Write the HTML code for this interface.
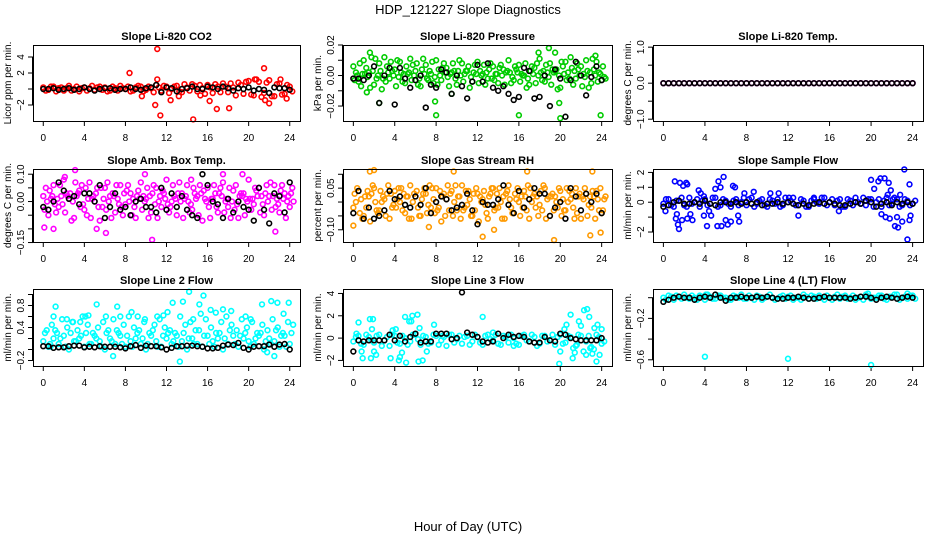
<!DOCTYPE html>
<html><head><meta charset="utf-8"><style>
html,body{margin:0;padding:0;background:#fff;}
svg{display:block;font-family:"Liberation Sans",sans-serif;}
</style></head><body>
<svg id="chart" width="936" height="540" viewBox="0 0 936 540" xmlns="http://www.w3.org/2000/svg">
<rect width="936" height="540" fill="#fff"/>
<text x="468" y="14" font-size="13" text-anchor="middle">HDP_121227  Slope Diagnostics</text>
<text x="468" y="531" font-size="13" text-anchor="middle">Hour of Day (UTC)</text>
<g id="panels"></g>
</svg>
<script>
const xTicks = [0,4,8,12,16,20,24];
const titles = ["Slope Li-820 CO2","Slope Li-820 Pressure","Slope Li-820 Temp.","Slope Amb. Box Temp.","Slope Gas Stream RH","Slope Sample Flow","Slope Line 2 Flow","Slope Line 3 Flow","Slope Line 4 (LT) Flow"];
const yTitles = ["Licor ppm per min.","kPa per min.","degrees C per min.","degrees C per min.","percent per min.","ml/min per min.","ml/min per min.","ml/min per min.","ml/min per min."];
const yRanges = [[-4,5.5],[-0.0298,0.02],[-1.05,1.06],[-0.148,0.119],[-0.144,0.119],[-2.67,2.23],[-0.30,1.10],[-2.5,4.4],[-0.66,0.084]];
const yTickVals = [[-2,0,2,4],[-0.02,-0.01,0,0.01,0.02],[-1,-0.5,0,0.5,1],[-0.15,-0.1,-0.05,0,0.05,0.1],[-0.1,-0.05,0,0.05,0.1],[-2,-1,0,1,2],[-0.2,0,0.2,0.4,0.6,0.8,1.0],[-2,0,2,4],[-0.6,-0.4,-0.2,0]];
const yTickLabels = [[[-2,"−2"],[2,"2"],[4,"4"]],[[-0.02,"−0.02"],[0,"0.00"],[0.02,"0.02"]],[[-1,"−1.0"],[0,"0.0"],[1,"1.0"]],[[-0.15,"−0.15"],[0,"0.00"],[0.1,"0.10"]],[[-0.1,"−0.10"],[0.05,"0.05"]],[[-2,"−2"],[0,"0"],[1,"1"],[2,"2"]],[[-0.2,"−0.2"],[0.4,"0.4"],[0.8,"0.8"]],[[-2,"−2"],[0,"0"],[2,"2"],[4,"4"]],[[-0.6,"−0.6"],[-0.2,"−0.2"]]];
const colors = ["#ff0000","#00cc00","#ff00ff","#ff00ff","#ff9a00","#0000ff","#00ffff","#00ffff","#00ffff"];

const co2A=[0.2,-0.1,0.3,0.1,-0.2,0.4,0.0,-0.3,0.2,0.1,-0.1,0.3,0.2,-0.2,0.1,0.4,0.0,-0.3,0.2,0.3,-0.1,0.1,0.5,-0.2,0.3,0.0,0.4,-0.4,0.2,0.6,-0.3,0.1,0.5,-0.5,0.3,0.7,-0.4,0.2,0.8,-0.6,1.0,-0.8,0.9,-0.5,1.1,-0.9,0.7,-0.6,0.3];
const co2B=[-0.2,0.3,-0.3,0.2,0.1,-0.2,0.3,0.1,-0.2,0.4,0.2,-0.1,-0.3,0.3,-0.2,0.1,0.3,-0.2,0.4,-0.3,0.3,-0.4,0.2,0.4,-0.5,0.3,-0.3,0.6,-0.2,0.4,0.5,-0.6,0.2,0.6,-0.4,0.3,0.7,-0.8,0.5,0.9,-0.7,1.2,-1.0,0.8,-0.9,0.6,-0.7,0.5,-0.3];
const co2OutX=[11.1,8.4,11.1,10.9,11.4,14.6,16.2,16.9,18.1,21.5,9.6,12.4,22,21.6,20.6,23.1,23.7,15.3,13.2];
const co2OutY=[5.0,2.0,1.2,-2,-3.3,-3.8,-1.5,-2.5,-2.4,2.6,-0.9,-1.4,-1.8,-1.4,1.2,1.2,-1.2,-0.8,-0.9];
const co2Blk=[0,0,0.1,-0.1,0,0.1,-0.1,0,0.2,0,-0.2,0,0.1,0.1,-0.1,0,0,0.2,0,-0.1,0.1,0.2,0.5,-0.4,0.2,0.1,-0.3,0,0.1,0.3,0,0,0.3,0.2,0,0.3,0.1,-0.2,0.1,0,0.2,-0.2,0,-0.1,-0.5,0.2,0.1,0.1,-0.1];

const prA=[0.006,-0.004,0.010,0.002,-0.006,0.008,0.012,-0.002,0.004,0.009,-0.005,0.011,0.003,-0.007,0.007,0.001,0.010,-0.003,0.005,0.002,-0.006,0.008,0.003,-0.004,0.009,0.001,-0.002,0.006,-0.005,0.004,0.010,-0.003,0.007,0.000,-0.006,0.005,0.011,-0.004,0.008,0.003,-0.008,0.009,0.012,-0.002,0.006,0.010,-0.005,0.009,-0.003];
const prB=[-0.003,0.008,0.001,-0.008,0.011,0.003,-0.004,0.009,-0.007,0.002,0.006,-0.003,0.008,0.004,-0.002,0.009,-0.006,0.005,-0.001,0.008,0.003,-0.004,0.006,0.002,-0.005,0.007,0.004,-0.003,0.005,-0.006,0.002,0.006,-0.004,0.008,0.003,-0.005,0.002,0.007,-0.006,0.004,0.009,-0.003,0.005,0.008,-0.007,0.003,0.011,-0.004,0.006];
const prC=[0.002,-0.007,0.005,0.012,-0.002,-0.009,0.006,0.003,0.010,-0.004,0.001,0.007,-0.006,0.011,-0.003,-0.005,0.004,0.008,-0.007,0.003,0.010,0.001,-0.008,0.007,0.003,-0.006,0.008,0.001,0.007,0.002,-0.005,0.004,0.001,-0.008,0.006,0.008,-0.003,0.002,0.004,-0.009,0.006,0.002,-0.006,0.004,0.001,-0.008,0.004,0.002,-0.001];
const prD=[0.000,0.001,-0.001,0.003,0.000,-0.002,0.002,0.000,-0.001,0.001,0.002,0.000,-0.002,0.001,0.003,-0.001,0.000,0.002,0.001,-0.002,0.000,0.003,-0.001,0.001,0.000,0.002,-0.002,0.001,0.000,0.003,-0.001,0.002,0.000,-0.002,0.001,0.000,0.003,-0.001,0.002,0.000,0.001,-0.002,0.003,0.000,-0.001,0.002,0.000,0.001,-0.002];
const prOutX=[8,16,19.9,20,23.9,2.5,7.9,18.9,19.5,17.9,1.6,23.4,1.3,9.5];
const prOutY=[-0.026,-0.026,-0.018,-0.028,-0.026,-0.018,-0.017,0.018,0.015,0.015,0.015,0.013,-0.011,-0.012];
const prBlk=[-0.002,-0.002,-0.003,0.000,0.006,-0.018,0.000,0.005,-0.019,0.005,-0.002,-0.008,-0.003,0.000,-0.021,-0.006,-0.008,0.004,0.002,-0.012,0.000,-0.007,-0.015,-0.004,0.007,-0.004,0.008,-0.008,-0.010,-0.007,-0.012,-0.016,-0.014,0.005,0.003,-0.015,-0.014,0.000,-0.020,0.004,-0.002,-0.027,-0.003,0.009,0.000,-0.013,-0.001,0.006,-0.003];

const tmpA=[0,0,0,0,0,0,0,0,0,0,0,0,0,0,0,0,0,0,0,0,0,0,0,0,0,0,0,0,0,0,0,0,0,0,0,0,0,0,0,0,0,0,0,0,0,0,0,0,0];
const tmpBlk=[0,0,0,0,0,0,0,0,0,0,0,0,0,0,0,0,0,0,0,0,0,0,0,0,0,0,0,0,0,0,0,0,0,0,0,0,0,0,0,0,0,0,0,0,0,0,0,0,0];

const ambA=[0.02,-0.05,0.06,-0.02,0.08,0.01,-0.06,0.04,-0.03,0.07,0.00,-0.07,0.05,0.02,-0.04,0.06,-0.01,0.03,-0.06,0.07,0.01,-0.04,0.05,-0.02,0.08,0.00,-0.05,0.03,0.06,-0.03,0.02,-0.07,0.05,0.01,-0.04,0.07,-0.02,0.04,-0.06,0.03,0.08,-0.01,0.05,-0.05,0.02,0.06,-0.04,0.03,-0.02];
const ambB=[-0.03,0.04,-0.01,0.06,-0.04,0.03,0.07,-0.02,0.05,-0.06,0.03,0.05,-0.03,-0.06,0.06,-0.02,0.04,-0.05,0.02,-0.03,0.05,0.03,-0.06,0.04,-0.01,0.06,0.03,-0.06,0.00,0.05,-0.05,0.04,-0.02,0.06,0.03,-0.04,0.05,-0.03,0.02,-0.05,0.01,0.05,-0.04,0.03,0.07,-0.02,0.04,-0.06,0.03];
const ambC=[0.05,0.01,-0.04,0.02,0.03,-0.07,0.02,0.06,-0.05,0.01,0.05,-0.02,0.07,0.03,0.01,-0.05,0.06,0.01,0.04,0.02,-0.06,0.06,0.00,0.03,-0.04,0.02,0.07,0.01,-0.04,0.03,0.06,0.01,-0.06,0.03,0.05,0.00,-0.06,0.06,0.03,0.01,-0.03,0.04,0.02,0.06,-0.03,0.01,0.06,0.00,0.05];
const ambD=[0.00,0.02,0.01,-0.01,0.02,0.00,0.03,-0.01,0.01,0.02,-0.02,0.01,0.00,0.02,-0.01,0.03,0.00,-0.02,0.01,0.00,0.02,-0.01,0.02,0.01,-0.02,0.01,0.00,0.02,-0.01,0.01,0.03,0.00,0.01,-0.02,0.02,0.01,0.00,-0.01,0.02,0.00,0.01,0.02,-0.01,0.00,0.02,-0.01,0.01,0.02,0.00];
const ambOutX=[3.1,6.1,10.6,5.2,1.0,0.1,2.1,9.9,17.5,19.4,14.4,22.6];
const ambOutY=[0.115,-0.115,-0.14,-0.10,-0.10,-0.095,0.09,0.10,0.10,0.10,0.08,-0.11];
const ambBlk=[-0.02,-0.03,0.00,0.07,0.04,0.01,0.02,-0.01,0.03,0.03,0.00,0.06,-0.06,-0.02,0.03,-0.03,-0.02,-0.05,0.00,0.01,-0.02,-0.02,-0.04,0.05,-0.03,0.03,-0.02,0.02,-0.03,-0.05,-0.06,0.10,0.06,0.00,-0.01,-0.06,0.01,-0.04,0.00,-0.02,-0.03,-0.07,0.05,-0.03,-0.08,0.03,0.02,-0.04,0.07];

const rhA=[-0.02,0.04,-0.05,0.02,0.05,-0.03,0.01,-0.06,0.04,0.00,-0.04,0.06,0.02,-0.05,0.03,-0.02,0.05,-0.07,0.01,0.04,-0.03,0.06,-0.01,-0.05,0.03,0.01,-0.06,0.05,-0.02,0.02,0.06,-0.04,0.00,0.04,-0.06,0.03,-0.01,0.05,-0.05,0.02,0.04,-0.03,0.01,0.05,-0.06,0.03,-0.02,0.04,-0.04];
const rhB=[0.03,-0.04,0.02,-0.07,0.00,0.04,-0.05,0.03,-0.02,0.05,0.02,-0.06,0.04,0.01,-0.04,0.05,-0.03,0.02,0.06,-0.05,0.02,-0.03,0.04,0.03,-0.07,0.04,0.02,-0.03,0.05,-0.06,0.01,0.03,-0.05,0.02,0.05,-0.02,0.04,-0.06,0.02,0.00,-0.05,0.05,0.03,-0.04,0.02,-0.05,0.04,0.01,-0.03];
const rhC=[0.00,0.01,-0.02,0.03,-0.03,0.00,0.03,-0.02,0.01,-0.03,0.02,0.00,-0.02,0.03,-0.01,0.01,-0.02,0.03,-0.03,0.00,0.02,-0.02,0.01,-0.03,0.02,-0.01,0.03,-0.02,0.00,0.03,-0.02,0.01,0.02,-0.03,0.00,0.02,-0.03,0.01,0.03,-0.02,0.01,0.00,-0.02,0.02,0.01,-0.01,0.02,-0.03,0.01];
const rhD=[0.05,-0.06,0.04,0.06,-0.04,0.02,0.06,-0.01,0.05,0.03,-0.06,0.03,-0.05,0.05,0.06,-0.04,0.04,-0.05,0.03,0.06,-0.06,0.04,-0.05,0.05,0.00,-0.04,0.05,0.03,-0.06,0.04,-0.04,0.05,-0.02,0.06,0.02,-0.05,0.06,0.02,-0.03,0.05,-0.03,0.04,-0.06,0.03,0.05,0.02,-0.06,0.05,0.02];
const rhOutX=[12.5,19.4,1.6,2.0,9.7,16.8,23.1,22.9,23.9,0.0,7.3,13.6];
const rhOutY=[-0.125,-0.137,0.11,0.115,0.11,0.11,0.11,-0.12,-0.11,-0.085,-0.09,-0.10];
const rhBlk=[-0.04,0.04,-0.06,-0.02,-0.06,-0.05,-0.03,0.04,0.01,0.02,-0.01,-0.02,0.02,-0.01,0.05,-0.04,0.00,0.02,0.01,-0.03,-0.02,-0.01,0.03,-0.03,-0.08,0.00,-0.01,-0.01,0.01,0.06,-0.01,-0.04,0.04,-0.02,0.01,0.05,0.03,0.03,-0.05,-0.02,0.00,-0.06,0.05,0.02,-0.03,0.03,0.00,0.03,-0.04];

const sfA=[-0.1,0.2,-0.3,0.1,-0.2,0.3,0.0,-0.3,0.2,-0.1,0.3,-0.2,0.1,-0.3,0.2,0.0,-0.2,0.3,-0.1,0.2,-0.3,0.1,0.2,-0.2,0.0,0.3,-0.2,0.1,-0.3,0.2,-0.1,0.3,0.0,-0.2,0.2,-0.3,0.1,0.3,-0.1,-0.2,0.2,0.0,-0.3,0.3,-0.1,0.2,-0.2,0.1,-0.1];
const sfB=[0.2,-0.2,0.1,0.3,-0.3,-0.1,0.2,0.1,-0.2,0.3,-0.3,0.2,-0.1,0.1,-0.2,0.3,0.2,-0.3,0.1,-0.2,0.2,-0.1,-0.3,0.3,0.1,-0.2,0.2,-0.3,0.1,0.0,0.3,-0.2,0.2,0.1,-0.3,0.2,-0.2,0.0,0.3,0.2,-0.3,0.2,0.1,-0.2,0.3,-0.3,0.2,-0.2,0.1];
const sfOutX=[1.1,1.6,1.9,2.2,2.3,1.3,1.2,1.4,1.5,1.8,2.3,2.6,2.8,3.4,3.6,3.9,3.9,4.2,4.4,4.6,5.0,5.3,5.5,5.8,5.6,5.2,6.0,6.2,6.5,6.7,6.9,7.3,7.2,7.8,8.7,10.3,11.1,13.0,20.0,20.3,20.7,20.9,21.3,21.7,21.9,21.6,22.1,21.0,21.4,21.8,22.3,22.6,22.5,23.0,23.2,23.7,23.8,23.5,23.7,22.8,0.2,16.9,14.5,12.1];
const sfOutY=[1.4,1.3,1.1,1.3,1.2,-0.8,-1.1,-1.5,-1.8,-1.2,-1.1,-0.8,-1.2,0.8,0.6,0.4,-0.9,-1.6,-0.6,-0.9,0.9,1.4,1.0,1.7,-1.6,-1.6,-1.2,-1.5,-1.3,1.1,1.0,-1.3,-0.9,0.6,0.7,0.6,0.6,-0.9,1.5,0.9,1.4,1.6,1.6,1.3,0.8,0.5,0.2,-0.8,-1.0,-1.1,-1.6,-1.7,-1.0,-1.3,2.2,-1.2,-0.9,-2.5,1.2,0.5,-0.6,-0.6,0.3,0.3];
const sfBlk=[-0.3,-0.2,0.0,0.1,-0.1,-0.1,0.0,-0.1,0.1,-0.1,-0.2,0.0,0.0,-0.1,0.0,-0.1,0.0,-0.1,0.0,-0.2,-0.1,-0.1,0.0,-0.1,0.0,-0.1,-0.2,-0.1,-0.2,-0.1,0.0,-0.1,0.0,-0.1,-0.2,-0.2,-0.1,0.0,-0.1,0.1,0.0,-0.3,-0.1,0.0,-0.2,0.0,-0.1,0.0,-0.1];

const l2A=[0.15,0.05,0.2,0.1,0.25,0.0,0.15,0.2,0.05,0.1,0.25,0.15,0.0,0.2,0.1,0.25,0.05,0.15,0.2,0.1,0.0,0.25,0.15,0.05,0.2,0.1,0.25,0.15,0.0,0.2,0.1,0.05,0.25,0.15,0.2,0.0,0.1,0.25,0.05,0.2,0.15,0.1,0.25,0.0,0.2,0.15,0.05,0.25,0.1];
const l2B=[0.3,0.1,0.35,0.2,0.05,0.3,0.15,0.25,0.3,0.1,0.2,0.05,0.3,0.15,0.35,0.1,0.25,0.05,0.3,0.2,0.1,0.35,0.05,0.25,0.3,0.15,0.05,0.3,0.2,0.1,0.35,0.25,0.1,0.05,0.3,0.2,0.35,0.1,0.25,0.3,0.05,0.2,0.3,0.15,0.1,0.35,0.25,0.05,0.3];
const l2C=[0.35,0.45,0.3,0.55,0.4,0.5,0.35,0.6,0.45,0.3,0.4,0.5,0.35,0.55,0.3,0.45,0.6,0.4,0.35,0.5,0.3,0.45,0.55,0.4,0.35,0.3,0.6,0.45,0.5,0.35,0.65,0.55,0.4,0.3,0.5,0.6,0.45,0.35,0.55,0.4,0.5,0.3,0.45,0.35,0.55,0.4,0.3,0.5,0.45];
const l2OutX=[1.0,1.2,2.3,3.6,4.1,4.4,5.2,6.1,7.2,7.5,8.6,9.2,9.9,11.1,11.7,12.1,12.6,13.3,13.6,14.2,14.6,15.2,15.6,16.3,16.8,17.5,18.3,19.7,20.2,21.3,22.2,22.8,23.4,23.9,2.9,0.7,6.8,22.5,21.8];
const l2OutY=[0.6,0.78,0.55,0.5,0.6,0.62,0.82,0.6,0.78,0.6,0.68,0.6,0.55,0.6,0.62,0.68,0.85,-0.22,0.87,1.05,0.55,0.82,0.98,0.72,0.67,0.73,0.7,0.6,0.55,0.82,0.88,0.85,0.65,0.85,0.5,0.05,-0.12,-0.12,-0.05];
const l2Blk=[0.06,0.06,0.03,0.04,0.04,0.06,0.07,0.07,0.04,0.05,0.04,0.06,0.05,0.05,0.05,0.04,0.02,0.06,0.08,0.03,0.07,0.06,0.06,0.04,0.0,0.03,0.06,0.06,0.07,0.07,0.06,0.05,0.02,0.02,0.03,0.07,0.09,0.08,0.12,0.03,0.0,0.05,0.06,0.06,0.09,0.05,0.09,0.10,0.0];

const l3A=[-0.3,0.2,-0.6,0.1,-0.4,0.3,-0.2,-0.7,0.2,-0.5,0.0,-0.3,0.3,-0.6,0.1,-0.4,0.2,-0.2,-0.7,0.3,-0.1,-0.5,0.2,-0.3,0.1,-0.6,0.3,-0.2,-0.5,0.2,-0.4,0.0,-0.6,0.3,-0.3,0.1,-0.5,0.2,-0.2,-0.6,0.3,-0.4,0.1,-0.7,0.2,-0.3,-0.8,0.3,-0.5];
const l3B=[0.1,-0.5,0.3,-0.2,0.2,-0.7,0.1,0.3,-0.4,0.2,-0.6,0.3,-0.1,0.2,-0.5,0.3,-0.6,0.1,0.3,-0.4,0.2,0.1,-0.6,0.3,-0.4,0.2,-0.1,0.3,-0.6,0.1,0.3,-0.5,0.2,-0.2,0.3,-0.7,0.2,-0.3,0.3,0.1,-0.5,0.2,-0.9,0.3,-1.2,0.2,-1.0,0.1,-0.3];
const l3OutX=[0.3,0.5,0.8,0.9,1.6,1.9,1.8,1.7,2.0,2.2,3.6,3.8,4.1,4.4,4.5,4.7,5.0,5.1,5.4,5.7,5.6,6.2,6.3,6.7,6.4,7.1,7.8,12.5,8.6,19.9,20.0,20.4,20.6,21.0,21.2,21.6,21.8,22.0,22.3,22.6,22.8,23.1,23.3,23.5,23.6,23.8,24.0,22.5,22.9,21.4,15.5,13.5];
const l3OutY=[0.4,1.4,-1.2,-1.8,1.7,1.7,0.8,-1.8,-1.2,-1.5,-1.8,0.7,0.8,-2.0,-1.7,-1.3,1.9,-2.2,1.5,2.0,1.5,2.1,-2.1,-2.0,0.9,-1.2,1.2,1.9,0.2,-2.3,-1.2,0.8,1.2,2.1,-1.8,-0.6,1.5,1.1,2.5,2.6,1.9,-1.4,0.9,-2.1,1.2,-1.5,0.8,-1.5,-0.9,-1.3,-0.7,0.5];
const l3Blk=[-1.2,-0.2,-0.3,-0.2,-0.2,-0.2,-0.2,0.3,-0.2,0.2,-0.3,0.1,0.4,-0.4,-0.3,-0.3,0.4,0.4,0.4,-0.1,0.0,4.1,0.5,0.3,0.1,-0.3,-0.4,-0.3,0.4,0.0,0.3,0.1,0.2,0.1,-0.3,-0.4,-0.4,0.1,-0.2,-0.3,0.4,0.3,0.0,-0.1,-0.2,-0.2,-0.2,-0.2,0.0];

const l4A=[0.00,0.02,-0.02,0.01,0.03,-0.01,0.00,0.02,-0.02,0.01,-0.01,0.02,0.00,-0.02,0.01,0.03,-0.01,0.00,0.02,-0.02,0.01,0.00,-0.01,0.02,0.01,-0.02,0.00,0.03,-0.01,0.01,0.02,-0.02,0.00,0.01,-0.01,0.02,0.00,-0.02,0.01,0.03,-0.01,0.00,0.02,-0.02,0.01,0.03,0.00,-0.01,0.02];
const l4B=[-0.02,0.01,0.02,-0.01,0.00,0.02,-0.02,0.01,0.03,-0.01,0.02,0.00,-0.02,0.02,0.00,-0.01,0.02,-0.02,0.01,0.00,0.03,-0.02,0.01,-0.01,0.02,0.00,-0.02,0.01,0.02,-0.01,0.00,0.02,-0.02,0.03,0.01,-0.01,0.02,0.00,-0.02,0.01,0.00,0.02,-0.01,0.01,0.03,-0.02,0.01,0.02,-0.01];
const l4OutX=[4.0,12.0,20.0,4.1,19.7,23.5];
const l4OutY=[-0.57,-0.59,-0.65,0.03,0.04,0.04];
const l4Blk=[-0.04,-0.02,0.00,0.01,0.00,0.00,-0.02,0.00,0.01,0.00,0.03,0.00,-0.03,0.00,0.00,0.01,0.00,0.00,0.01,0.00,0.01,0.00,-0.01,-0.01,0.00,0.00,0.01,0.00,-0.01,-0.01,0.00,0.01,0.00,0.00,0.00,0.00,-0.01,0.00,0.01,0.01,0.00,-0.02,0.00,0.01,0.00,-0.01,0.00,0.01,0.00];

const panelSeries = [[co2A,co2B],[prA,prB,prC,prD],[tmpA],[ambA,ambB,ambC,ambD],[rhA,rhB,rhC,rhD],[sfA,sfB],[l2A,l2B,l2C],[l3A,l3B],[l4A,l4B]];
const panelOutX = [co2OutX,prOutX,[],ambOutX,rhOutX,sfOutX,l2OutX,l3OutX,l4OutX];
const panelOutY = [co2OutY,prOutY,[],ambOutY,rhOutY,sfOutY,l2OutY,l3OutY,l4OutY];
const panelBlk = [co2Blk,prBlk,tmpBlk,ambBlk,rhBlk,sfBlk,l2Blk,l3Blk,l4Blk];

const NS="http://www.w3.org/2000/svg";
const colLeft=[33,343,653], colRight=[300,612,923], rowTop=[45,169,289], rowBot=[121,242,366];
const root=document.getElementById('panels');
function mk(tag,attrs,parent){const e=document.createElementNS(NS,tag);for(const k in attrs)e.setAttribute(k,attrs[k]);parent.appendChild(e);return e;}

for(let p=0;p<9;p++){
  const c=p%3, r=Math.floor(p/3);
  const L=colLeft[c],R=colRight[c],T=rowTop[r],B=rowBot[r];
  const xs=v=>L+(v+1)/26*(R-L);
  const [y0,y1]=yRanges[p];
  const ys=v=>B-(v-y0)/(y1-y0)*(B-T);
  const g=mk('g',{},root);
  
  
  const t=mk('text',{x:(L+R)/2,y:T-5,'font-size':11,'font-weight':'bold','text-anchor':'middle'},g);
  t.textContent=titles[p];
  
  
  const yt=mk('text',{x:0,y:0,'font-size':10,'text-anchor':'middle',transform:`translate(${L-22},${(T+B)/2}) rotate(-90)`},g);
  yt.textContent=yTitles[p];
  
  
  const xa=mk('g',{stroke:'#000','stroke-width':1},g);
  
  
  mk('line',{x1:xs(0),x2:xs(24),y1:B+0.5,y2:B+0.5},xa);
  xTicks.forEach(v=>{
    mk('line',{x1:xs(v),x2:xs(v),y1:B,y2:B+5},xa);
    const tl=mk('text',{x:xs(v),y:B+20,'font-size':10,'text-anchor':'middle',stroke:'none'},g);tl.textContent=v;
    
    
  });
  const ya=mk('g',{stroke:'#000','stroke-width':1},g);
  
  
  const yv=yTickVals[p];
  mk('line',{x1:L-0.5,x2:L-0.5,y1:ys(yv[0]),y2:ys(yv[yv.length-1])},ya);
  yv.forEach(v=>mk('line',{x1:L-5,x2:L,y1:ys(v),y2:ys(v)},ya));
  yTickLabels[p].forEach(([v,lab])=>{
    const tl=mk('text',{x:0,y:0,'font-size':10,'text-anchor':'middle',transform:`translate(${L-9},${ys(v)}) rotate(-90)`},g);
    tl.textContent=lab;
    
    
  });
  const pg=mk('g',{fill:'none',stroke:colors[p],'stroke-width':1.6},g);
  
  
  const ser=panelSeries[p];
  ser.forEach((arr,k)=>{
    arr.forEach((v,i)=>{
      const hx=i*0.5+k*0.5/ser.length;
      const cc=mk('circle',{cx:xs(hx),cy:ys(v),r:2.4},pg);
      
      
    });
  });
  panelOutX[p].forEach((xv,i)=>{
    const cc=mk('circle',{cx:xs(xv),cy:ys(panelOutY[p][i]),r:2.4},pg);
    
    
  });
  const bg=mk('g',{fill:'none',stroke:'#000','stroke-width':1.6},g);
  
  
  panelBlk[p].forEach((v,i)=>{
    const cc=mk('circle',{cx:xs(i*0.5),cy:ys(v),r:2.4},bg);
    
    
  });
  const box=mk('rect',{x:L+0.5,y:T+0.5,width:R-L,height:B-T,fill:'none',stroke:'#000','stroke-width':1},g);
  
  
}
</script>
</body></html>
